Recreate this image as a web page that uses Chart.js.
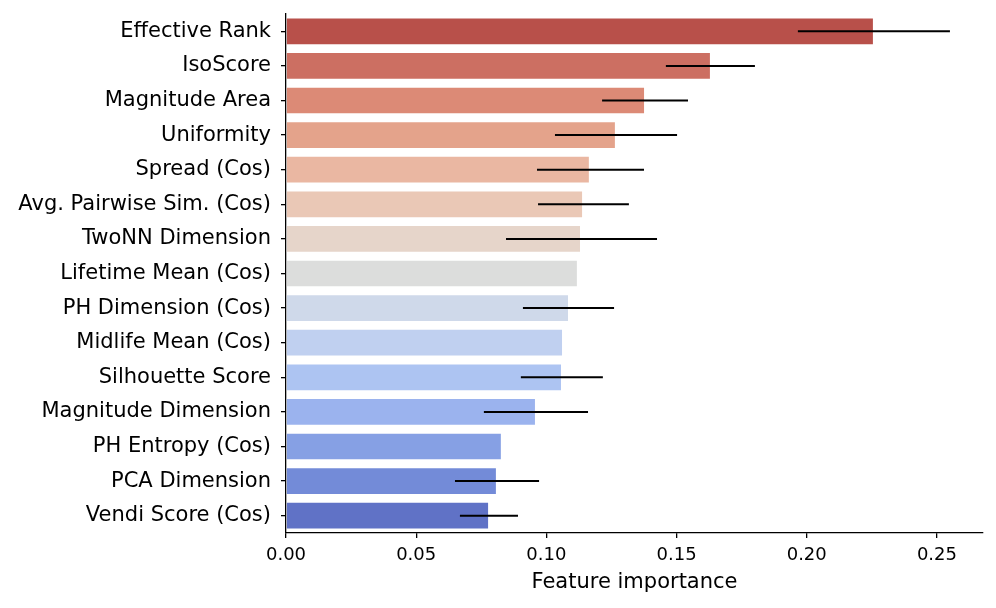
<!DOCTYPE html>
<html>
<head>
<meta charset="utf-8">
<script src="https://cdn.jsdelivr.net/npm/chart.js@4.4.0/dist/chart.umd.min.js"></script>
<style>
html,body{margin:0;padding:0;background:#fff;}
#wrap{width:996px;height:608px;position:relative;}
</style>
</head>
<body>
<div id="wrap"><canvas id="c" width="996" height="608"></canvas></div>
<script>
const categories = ["Effective Rank","IsoScore","Magnitude Area","Uniformity","Spread (Cos)","Avg. Pairwise Sim. (Cos)","TwoNN Dimension","Lifetime Mean (Cos)","PH Dimension (Cos)","Midlife Mean (Cos)","Silhouette Score","Magnitude Dimension","PH Entropy (Cos)","PCA Dimension","Vendi Score (Cos)"];
const importance = [0.2258,0.1632,0.1379,0.1267,0.1167,0.1141,0.1133,0.1121,0.1087,0.1064,0.1060,0.0960,0.0829,0.0810,0.0780];
const errLow  = [0.1966,0.1459,0.1214,0.1033,0.0964,0.0968,0.0845,null,0.0910,null,0.0902,0.0760,null,0.0649,0.0668];
const errHigh = [0.2550,0.1801,0.1544,0.1502,0.1375,0.1317,0.1425,null,0.1260,null,0.1217,0.1160,null,0.0972,0.0891];
const barColors = ["#b8504a","#cc6f62","#dc8a76","#e4a38b","#eab7a2","#eac8b6","#e6d5ca","#dcdddc","#cfd9ea","#c0d0f0","#adc4f2","#9bb3ee","#86a0e4","#738bd8","#6072c6"];
const xTicks = [0,0.05,0.10,0.15,0.20,0.25];

const errorBars = {
  id:'errorBars',
  afterDatasetsDraw(chart){
    const ctx = chart.ctx, xs = chart.scales.x, ys = chart.scales.y;
    ctx.save();
    ctx.strokeStyle = '#000';
    ctx.lineWidth = 2;
    for(let i=0;i<categories.length;i++){
      if(errLow[i]==null) continue;
      const y = ys.getPixelForValue(i);
      ctx.beginPath();
      ctx.moveTo(xs.getPixelForValue(errLow[i]), y);
      ctx.lineTo(xs.getPixelForValue(errHigh[i]), y);
      ctx.stroke();
    }
    ctx.restore();
  }
};

const fontBig = {family:'"DejaVu Sans", sans-serif', size:21};
const fontTick = {family:'"DejaVu Sans", sans-serif', size:18};
new Chart(document.getElementById('c'),{
  type:'bar',
  data:{labels:categories,datasets:[{data:importance,backgroundColor:barColors,borderColor:'rgba(255,255,255,0.6)',borderWidth:1,barPercentage:0.8,categoryPercentage:1.0}]},
  options:{
    indexAxis:'y',
    responsive:false,
    animation:false,
    devicePixelRatio:1,
    layout:{padding:{left:0,right:13,top:14,bottom:13}},
    plugins:{legend:{display:false},tooltip:{enabled:false}},
    scales:{
      x:{
        min:0,max:0.2677,
        afterBuildTicks(s){ s.ticks = xTicks.map(v=>({value:v})); },
        afterFit(s){ s.height = 62; s.paddingRight = 0; },
        ticks:{color:'#000',font:fontTick,padding:7,callback:v=>Number(v).toFixed(2),maxRotation:0},
        grid:{display:true,drawOnChartArea:false,drawTicks:true,tickLength:5,color:'#000',lineWidth:1.3},
        border:{display:true,color:'#000',width:1.3},
        title:{display:true,text:'Feature importance',color:'#000',font:fontBig,padding:{top:0,bottom:0}}
      },
      y:{
        offset:true,
        afterFit(s){ s.width = 286; s.paddingTop = 0; s.paddingBottom = 0; },
        ticks:{color:'#000',font:fontBig,padding:10,autoSkip:false},
        grid:{display:true,drawOnChartArea:false,drawTicks:true,tickLength:5,color:'#000',lineWidth:1.3,offset:false},
        border:{display:true,color:'#000',width:1.3}
      }
    }
  },
  plugins:[errorBars]
});
</script>
</body>
</html>
